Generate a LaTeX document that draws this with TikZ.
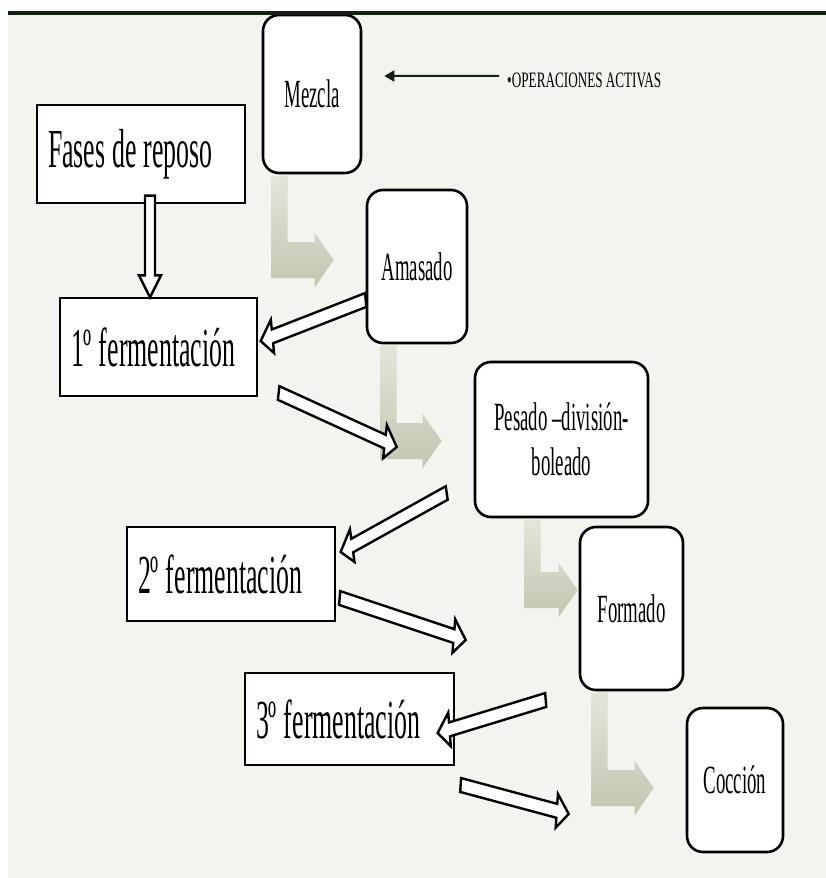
\documentclass[tikz,border=0pt]{standalone}
\usepackage{fontspec}
\setmainfont{Liberation Serif}[FakeStretch=0.47]
\newfontfamily\opsfont{Liberation Serif}[FakeStretch=0.6]
\usetikzlibrary{calc,arrows.meta}
\definecolor{bgc}{RGB}{243,243,240}
\definecolor{garr}{RGB}{194,199,178}
\definecolor{garrlight}{RGB}{226,229,217}
\definecolor{topline}{RGB}{20,32,20}
\newcommand\rboxfont{\fontsize{40}{45}\selectfont\spaceskip=5pt\relax}
\newcommand\sboxfont{\fontsize{55}{60}\selectfont\spaceskip=7pt\relax}
\newcommand\opsboxfont{\opsfont\fontsize{22}{24}\selectfont\spaceskip=3pt\relax}
\tikzset{
 rbox/.style={draw=black, line width=2.6pt, rounded corners=16pt, fill=white, inner sep=0pt, align=flush center, font=\rboxfont},
 sbox/.style={draw=black, line width=1.3pt, fill=white, inner xsep=11pt, inner ysep=0pt, align=flush left, font=\sboxfont},
 harr/.style={draw=black, line width=2.4pt, fill=white, line join=miter},
 garrow/.style={top color=garrlight, bottom color=garr, draw=none},
 opsarr/.style={draw=topline, line width=2pt, -{Triangle[length=10pt,width=11pt]}},
}
% hollow arrow: start, end, shaft half width, head half width, head length (in unsquashed frame)
\newcommand\hollowarrow[5]{%
 \path[harr] let \p1=(#1), \p3=($(#2)-(#1)$), \n1={atan2(\y3,2*\x3)}, \n2={veclen(2*\x3,\y3)} in
  [shift={(\x1,\y1)}, xscale=0.5, rotate=\n1]
  (0,#3) -- ({\n2-#5},#3) -- ({\n2-#5},#4) -- (\n2,0) -- ({\n2-#5},-#4) -- ({\n2-#5},-#3) -- (0,-#3) -- cycle;}
% bent green arrow: start (top left of bar), tip
\newcommand\greenarrow[2]{%
 \path[garrow] let \p1=(#1), \p2=(#2) in
  (\x1,\y1) -- ({\x1+16pt},\y1) -- ({\x1+16pt},{\y2+18pt}) -- ({\x2-19pt},{\y2+18pt}) -- ({\x2-19pt},{\y2+27pt}) -- (\x2,\y2) -- ({\x2-19pt},{\y2-27pt}) -- ({\x2-19pt},{\y2-18pt}) -- (\x1,{\y2-18pt}) -- cycle;}
\begin{document}
\begin{tikzpicture}[x=1pt,y=-1pt]
\useasboundingbox (0,0) rectangle (826,878);
\fill[white] (0,0) rectangle (826,878);
\fill[bgc] (8,15) rectangle (826,878);

\node[rbox, minimum width=98pt, minimum height=158pt] (mezcla) at (312,94) {Mezcla};
\node[sbox, text width=186pt, minimum height=98pt] (fases) at (141,154) {Fases de reposo};
\node[rbox, minimum width=100pt, minimum height=153pt] (amasado) at (417,266.5) {Amasado};
\node[sbox, text width=175pt, minimum height=98pt] (ferm1) at (158.5,347) {1º fermentación};
\node[rbox, minimum width=173pt, minimum height=155pt] (pesado) at (561.5,439.5) {Pesado –división-\\boleado};
\node[sbox, text width=186pt, minimum height=94pt] (ferm2) at (231,574) {2º fermentación};
\node[rbox, minimum width=103pt, minimum height=163pt] (formado) at (631.5,608.5) {Formado};
\node[sbox, text width=187pt, minimum height=92pt] (ferm3) at (349.5,719) {3º fermentación};
\node[rbox, minimum width=96pt, minimum height=144pt] (coccion) at (735,780) {Cocción};

\node[anchor=base west, inner sep=0pt, font=\opsboxfont] (ops) at (507,87) {•OPERACIONES ACTIVAS};
\coordinate (opsstart) at ($(ops.west)+(-8,-4)$);
\coordinate (opstip) at ($(mezcla.east)+(22,-18)$);
\draw[opsarr] (opsstart) -- (opstip);

\draw[topline, line width=4pt] (8,13) -- (826,13);

% green bent arrows
\coordinate (g1s) at ($(mezcla.south west)+(10,1.3)$);
\coordinate (g1e) at ($(amasado.west)+(-32,-6.5)$);
\coordinate (g2s) at ($(amasado.south west)+(15,1.3)$);
\coordinate (g2e) at ($(pesado.west)+(-32,1.5)$);
\coordinate (g3s) at ($(pesado.south west)+(51,1.3)$);
\coordinate (g3e) at ($(formado.west)+(-1,-18.5)$);
\coordinate (g4s) at ($(formado.south west)+(13,1.3)$);
\coordinate (g4e) at ($(coccion.west)+(-32,8)$);
\greenarrow{g1s}{g1e}
\greenarrow{g2s}{g2e}
\greenarrow{g3s}{g3e}
\greenarrow{g4s}{g4e}

% hollow arrows
\coordinate (vs) at ($(fases.south)+(9,-8)$);
\coordinate (ve) at ($(ferm1.north)+(-8.5,0)$);
\coordinate (a1s) at ($(amasado.west)+(0,33.5)$);
\coordinate (a1e) at ($(ferm1.east)+(3,-6)$);
\coordinate (a2s) at ($(ferm1.east)+(21,46)$);
\coordinate (a2e) at ($(pesado.west)+(-77,7.5)$);
\coordinate (a3s) at ($(pesado.west)+(-27,53.5)$);
\coordinate (a3e) at ($(ferm2.east)+(5,-22)$);
\coordinate (a4s) at ($(ferm2.east)+(4,24)$);
\coordinate (a4e) at ($(formado.west)+(-113,31.5)$);
\coordinate (a5s) at ($(formado.west)+(-33,91.5)$);
\coordinate (a5e) at ($(ferm3.east)+(-17,14)$);
\coordinate (a6s) at ($(ferm3.east)+(6,66)$);
\coordinate (a6e) at ($(coccion.west)+(-117,34)$);
\hollowarrow{vs}{ve}{10}{22}{22}
\hollowarrow{a1s}{a1e}{7}{17}{24}
\hollowarrow{a2s}{a2e}{7}{17}{24}
\hollowarrow{a3s}{a3e}{7}{17}{24}
\hollowarrow{a4s}{a4e}{7}{17}{24}
\hollowarrow{a5s}{a5e}{7}{17}{24}
\hollowarrow{a6s}{a6e}{7}{17}{24}
\end{tikzpicture}
\end{document}
